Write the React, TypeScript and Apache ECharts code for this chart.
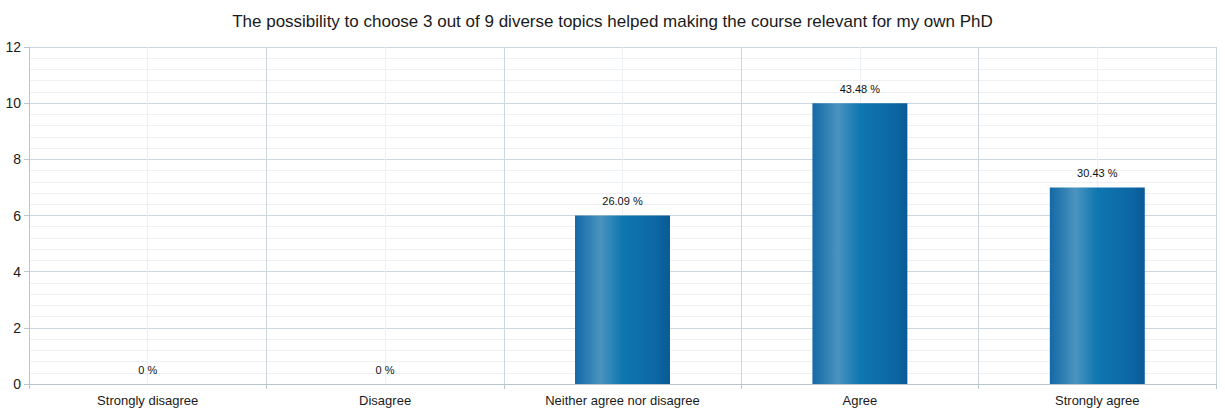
import React, { useEffect, useRef } from "react";
import * as echarts from "echarts";

const titleText =
  "The possibility to choose 3 out of 9 diverse topics helped making the course relevant for my own PhD";
const categories = [
  "Strongly disagree",
  "Disagree",
  "Neither agree nor disagree",
  "Agree",
  "Strongly agree",
];
const counts = [0, 0, 6, 10, 7];
const percents = ["0", "0", "26.09", "43.48", "30.43"];

export default function App() {
  const ref = useRef<HTMLDivElement>(null);
  useEffect(() => {
    if (!ref.current) return;
    const chart = echarts.init(ref.current, undefined, { renderer: "svg" });
    const font = "Arial, 'Liberation Sans', sans-serif";
    chart.setOption({
      animation: false,
      backgroundColor: "#ffffff",
      title: {
        text: titleText,
        left: "center",
        top: 8,
        textStyle: {
          fontSize: 17,
          fontWeight: "normal",
          color: "#1a1a1a",
          fontFamily: font,
        },
      },
      grid: { left: 29, right: 9, top: 47, bottom: 28, containLabel: false },
      xAxis: [
        {
          type: "category",
          data: categories,
          boundaryGap: true,
          axisLine: { show: true, lineStyle: { color: "#b8c6cd", width: 1 } },
          axisTick: {
            show: true,
            alignWithLabel: false,
            length: 5,
            lineStyle: { color: "#b8c6cd" },
          },
          axisLabel: {
            color: "#1a1a1a",
            fontSize: 13,
            fontFamily: font,
            margin: 10,
          },
          splitLine: { show: false },
        },
        {
          type: "value",
          min: 0,
          max: categories.length * 2,
          interval: 1,
          show: true,
          axisLine: { show: false },
          axisTick: { show: false },
          axisLabel: { show: false },
          splitLine: {
            show: true,
            lineStyle: { color: ["#ccd7dd", "#ecf0f2"], width: 1 },
          },
        },
      ],
      yAxis: {
        type: "value",
        min: 0,
        max: 12,
        interval: 2,
        axisLine: { show: true, lineStyle: { color: "#b8c6cd" } },
        axisTick: { show: true, length: 5, lineStyle: { color: "#b8c6cd" } },
        axisLabel: {
          color: "#1a1a1a",
          fontSize: 14,
          fontFamily: font,
          margin: 8,
        },
        splitLine: { show: true, lineStyle: { color: "#ccd7dd", width: 1 } },
        minorTick: { show: false, splitNumber: 5 },
        minorSplitLine: {
          show: true,
          lineStyle: { color: "#eef1f3", width: 1 },
        },
      },
      series: [
        {
          type: "bar",
          xAxisIndex: 0,
          data: counts,
          barWidth: "40%",
          itemStyle: {
            color: new echarts.graphic.LinearGradient(0, 0, 1, 0, [
              { offset: 0, color: "#1369a7" },
              { offset: 0.27, color: "#4a93bf" },
              { offset: 0.5, color: "#0f77b0" },
              { offset: 0.85, color: "#0c67a3" },
              { offset: 1, color: "#0a5a95" },
            ]),
            borderWidth: 0,
          },
          label: {
            show: true,
            position: "top",
            distance: 9,
            color: "#111",
            fontSize: 11,
            fontFamily: font,
            formatter: (p: any) => percents[p.dataIndex] + " %",
          },
        },
      ],
    });
    return () => chart.dispose();
  }, []);
  return (
    <div
      ref={ref}
      style={{ position: "fixed", left: 0, top: 0, width: 1225, height: 412 }}
    />
  );
}
